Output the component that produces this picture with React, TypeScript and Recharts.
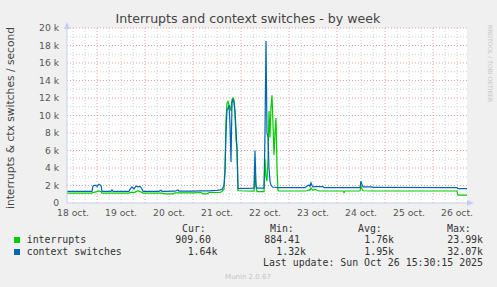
import React from "react";
import { LineChart, Line, XAxis, YAxis, ReferenceLine, ReferenceArea } from "recharts";

// hours since 18 oct 00:00
const hours = [9, 21.5, 22, 23, 24, 25, 26, 26.5, 31, 31.5, 32, 40, 40.5, 41.5, 42.5, 43.5, 44.5, 45.5, 46.5, 47, 55, 56, 56.5, 58, 62, 63, 64.5, 65, 72, 76, 77, 79, 80, 84, 85.5, 86.5, 87.5, 88, 88.5, 89, 89.5, 90, 90.5, 91, 91.5, 92, 92.5, 93, 93.5, 94, 94.5, 102.5, 103, 103.5, 104, 107.5, 108, 108.5, 109, 109.5, 110, 110.5, 111, 111.5, 112, 112.5, 113, 113.5, 114, 114.5, 115, 128, 129, 130, 130.5, 131, 131.5, 132, 133, 135, 137, 137.5, 147, 147.5, 148, 155.5, 156, 156.5, 157, 161.5, 162, 204, 204.5, 209];

// values in thousands per second
const interrupts = [1.12, 1.12, 1.2, 1.25, 1.3, 1.38, 1.3, 1.12, 1.12, 1.12, 1.12, 1.12, 1.2, 1.25, 1.2, 1.3, 1.4, 1.3, 1.2, 1.12, 1.12, 1.12, 1.12, 1.05, 1.05, 1.15, 1.15, 1.15, 1.15, 1.2, 1.05, 1.05, 1.2, 1.2, 1.2, 1.3, 1.6, 4.0, 9.5, 11.4, 11.6, 11.2, 11.0, 10.5, 11.8, 12.0, 11.8, 10.0, 7.2, 6.5, 1.4, 1.35, 3.5, 1.8, 1.3, 1.3, 5.0, 3.0, 2.5, 5.0, 10.5, 7.5, 11.0, 12.3, 9.0, 5.5, 8.0, 9.7, 4.0, 1.4, 1.37, 1.37, 1.4, 1.5, 1.45, 1.7, 1.55, 1.45, 1.55, 1.37, 1.37, 1.37, 1.37, 1.18, 1.37, 1.37, 1.9, 1.6, 1.4, 1.37, 1.37, 1.37, 0.91, 0.91];

const contextSwitches = [1.33, 1.33, 1.95, 2.05, 1.9, 2.15, 2.0, 1.33, 1.33, 1.5, 1.33, 1.33, 1.55, 1.85, 1.6, 1.95, 1.85, 1.9, 1.6, 1.33, 1.33, 1.45, 1.33, 1.33, 1.35, 1.35, 1.48, 1.35, 1.35, 1.38, 1.38, 1.38, 1.38, 1.45, 1.5, 1.55, 2.0, 3.5, 8.0, 10.6, 10.8, 11.2, 9.0, 4.7, 11.5, 11.8, 11.5, 10.5, 8.5, 6.0, 1.65, 1.7, 6.0, 2.0, 1.7, 1.7, 8.0, 18.5, 8.0, 7.5, 4.0, 2.5, 2.0, 1.9, 1.8, 1.8, 1.8, 1.8, 1.75, 1.75, 1.75, 1.75, 1.95, 2.05, 1.9, 2.3, 2.0, 1.85, 1.87, 1.87, 1.87, 1.75, 1.75, 1.75, 1.75, 1.75, 2.5, 2.1, 1.85, 1.85, 1.78, 1.76, 1.64, 1.64];

const xTickHours = [12, 36, 60, 84, 108, 132, 156, 180, 204];
const xTickLabels = ["18 oct.", "19 oct.", "20 oct.", "21 oct.", "22 oct.", "23 oct.", "24 oct.", "25 oct.", "26 oct."];
const yTicks = [0, 2, 4, 6, 8, 10, 12, 14, 16, 18, 20];
const yMinor = [1, 3, 5, 7, 9, 11, 13, 15, 17, 19];
const dayLines = [24, 48, 72, 96, 120, 144, 168, 192];
const sixHourLines = [12, 18, 30, 36, 42, 54, 60, 66, 78, 84, 90, 102, 108, 114, 126, 132, 138, 150, 156, 162, 174, 180, 186, 198, 204];

const legendRows = [
  { name: "interrupts", color: "#00CC00", cur: "909.60", min: "884.41", avg: "1.76k", max: "23.99k" },
  { name: "context switches", color: "#0066B3", cur: "1.64k", min: "1.32k", avg: "1.95k", max: "32.07k" },
];

const data = hours.map((h, i) => ({ h, intr: interrupts[i], ctx: contextSwitches[i] }));

const SANS = "DejaVu Sans";
const MONO = "DejaVu Sans Mono";
const MINOR = "#cfcfcf";
const MAJOR = "#eea0a0";
const AXIS = "#c6cdf0";

export default function App() {
  const fmtY = (v: number) => (v === 0 ? "0" : `${v} k`);
  const fmtX = (v: number) => {
    const i = xTickHours.indexOf(v);
    return i >= 0 ? xTickLabels[i] : "";
  };
  return (
    <div style={{ position: "relative", width: 497, height: 287, background: "#F0F0F0" }}>
      <style>{"body{margin:0}"}</style>
      <LineChart
        width={497}
        height={287}
        data={data}
        margin={{ top: 28, right: 30, bottom: 64, left: 7 }}
      >
        <XAxis
          dataKey="h"
          type="number"
          domain={[9, 209]}
          ticks={xTickHours}
          tickFormatter={fmtX}
          interval={0}
          height={20}
          axisLine={{ stroke: AXIS }}
          tickLine={false}
          tickSize={5}
          tickMargin={1}
          tick={{ fontFamily: SANS, fontSize: 9.2, fill: "#555" }}
          allowDataOverflow
        />
        <YAxis
          type="number"
          domain={[0, 20]}
          ticks={yTicks}
          tickFormatter={fmtY}
          interval={0}
          width={60}
          axisLine={{ stroke: AXIS }}
          tickLine={false}
          tickSize={6}
          tickMargin={2}
          tick={{ fontFamily: SANS, fontSize: 9.2, fill: "#555" }}
          allowDataOverflow
        />
        <ReferenceArea x1={9} x2={209} y1={0} y2={20} fill="#ffffff" fillOpacity={1} stroke="none" />
        {sixHourLines.map((v) => (
          <ReferenceLine key={"m" + v} x={v} stroke={MINOR} strokeDasharray="1 2" />
        ))}
        {yMinor.map((v) => (
          <ReferenceLine key={"ym" + v} y={v} stroke={MINOR} strokeDasharray="1 2" />
        ))}
        {dayLines.map((v) => (
          <ReferenceLine key={"d" + v} x={v} stroke={MAJOR} strokeDasharray="1 2" />
        ))}
        {yTicks.filter((v) => v > 0).map((v) => (
          <ReferenceLine key={"yM" + v} y={v} stroke={MAJOR} strokeDasharray="1 2" />
        ))}
        <Line type="linear" dataKey="intr" stroke="#00CC00" strokeWidth={1.2} dot={false} isAnimationActive={false} />
        <Line type="linear" dataKey="ctx" stroke="#0066B3" strokeWidth={1.2} dot={false} isAnimationActive={false} />
      </LineChart>
      <svg
        width={497}
        height={287}
        style={{ position: "absolute", left: 0, top: 0, pointerEvents: "none" }}
      >
        <polygon points="64,29 67,22 70,29" fill={AXIS} />
        <polygon points="467,200 474,203 467,206" fill={AXIS} />
        <text x={248} y={23} textAnchor="middle" fontFamily={SANS} fontSize={12.6} fill="#444">
          Interrupts and context switches - by week
        </text>
        <text
          x={14}
          y={118}
          textAnchor="middle"
          transform="rotate(-90 14 118)"
          fontFamily={SANS}
          fontSize={10.7}
          fill="#444"
        >
          interrupts &amp; ctx switches / second
        </text>
        <text
          x={486}
          y={25}
          transform="rotate(90 486 25)"
          fontFamily={SANS}
          fontSize={6}
          fill="#c8c8c8"
          dy={-2}
        >
          RRDTOOL / TOBI OETIKER
        </text>
        <g fontFamily={MONO} fontSize={9.9} fill="#333">
          <text x={182} y={231.5}>Cur:</text>
          <text x={270} y={231.5}>Min:</text>
          <text x={358} y={231.5}>Avg:</text>
          <text x={447} y={231.5}>Max:</text>
          {legendRows.map((r, i) => {
            const y = 242.5 + i * 12;
            return (
              <g key={r.name}>
                <rect x={14} y={y - 5.5} width={6} height={6} fill={r.color} />
                <text x={26.7} y={y}>{r.name}</text>
                <text x={211} y={y} textAnchor="end">{r.cur.endsWith("k") ? "" : r.cur}</text>
                <text x={217.4} y={y} textAnchor="end">{r.cur.endsWith("k") ? r.cur : ""}</text>
                <text x={r.min.endsWith("k") ? 306 : 300} y={y} textAnchor="end">{r.min}</text>
                <text x={394} y={y} textAnchor="end">{r.avg}</text>
                <text x={483} y={y} textAnchor="end">{r.max}</text>
              </g>
            );
          })}
          <text x={483} y={266} textAnchor="end">Last update: Sun Oct 26 15:30:15 2025</text>
        </g>
        <text x={248} y={278.5} textAnchor="middle" fontFamily={SANS} fontSize={7} fill="#c4c4c4">
          Munin 2.0.67
        </text>
      </svg>
    </div>
  );
}
